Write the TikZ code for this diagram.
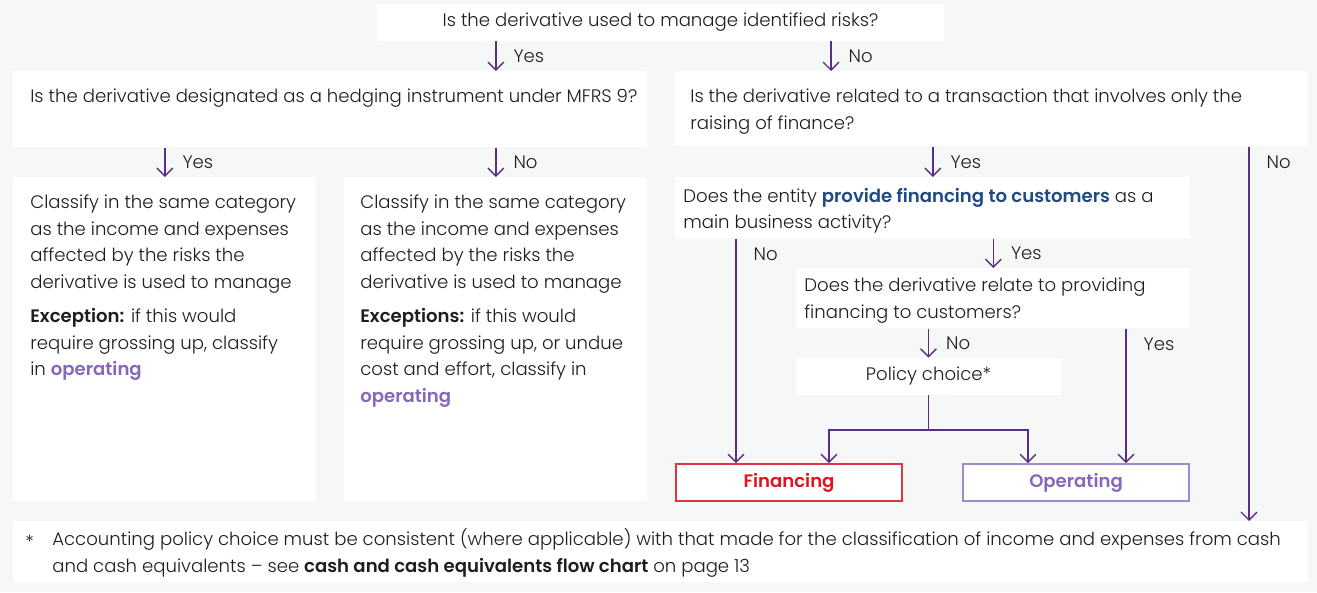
\documentclass[tikz,border=0pt]{standalone}
\usepackage{fontspec}
\setmainfont{Poppins}[UprightFont=* Light, BoldFont=* SemiBold]
\usetikzlibrary{arrows.meta}

\definecolor{bg}{RGB}{246,247,247}
\definecolor{ink}{RGB}{30,30,30}
\definecolor{arrowpurple}{HTML}{5A2D87}
\definecolor{oppurple}{HTML}{8866BB}
\definecolor{opframe}{HTML}{A089CC}
\definecolor{finred}{HTML}{E0141E}
\definecolor{finframe}{HTML}{E0343E}
\definecolor{finblue}{HTML}{1F4A86}

\begin{document}
\begin{tikzpicture}[x=0.02cm, y=-0.02cm, font=\fontsize{10.3}{15.2}\selectfont,
  box/.style={fill=white, inner sep=0pt, anchor=north west},
  txt/.style={anchor=north west, inner sep=0pt, align=left, text=ink, execute at begin node=\strut},
  arr/.style={draw=arrowpurple, line width=0.8pt, -{Straight Barb[length=4.5pt,width=9pt]}},
  lbl/.style={anchor=west, xshift=0.34cm, inner sep=0pt, text=ink},
  endbox/.style={fill=white, line width=1pt, minimum width=4.52cm, minimum height=0.74cm, inner sep=0pt, font=\bfseries\fontsize{10.3}{12}\selectfont}]

\path[fill=bg, use as bounding box] (0,0) rectangle (1317,592);

%\draw[step=100, gray!30] (0,0) grid (1317,592);

% questions
\node[box, anchor=center, minimum width=11.34cm, minimum height=0.74cm, text=ink] (risk) at (660.5,22.5) {Is the derivative used to manage identified risks?};

\node[box, minimum width=12.68cm, minimum height=1.52cm] (hedge) at (13,71) {};
\node[txt] (hedgetxt) at (30,83.2) {Is the derivative designated as a hedging instrument under MFRS 9?};

\node[box, minimum width=12.66cm, minimum height=1.5cm] (raise) at (675,71) {};
\node[txt] (raisetxt) at (690,89) {Is the derivative related to a transaction that involves only the\\raising of finance?};

% hedging outcomes
\node[box, minimum width=6.06cm, minimum height=6.48cm] (same) at (13,177) {};
\node[txt] (sametxt) at (30,194.5) {Classify in the same category\\as the income and expenses\\affected by the risks the\\derivative is used to manage\\[4pt]\textbf{Exception:} if this would\\require grossing up, classify\\in \textbf{\color{oppurple}operating}};

\node[box, minimum width=6.06cm, minimum height=6.48cm] (undue) at (344,177) {};
\node[txt] (unduetxt) at (360,194.5) {Classify in the same category\\as the income and expenses\\affected by the risks the\\derivative is used to manage\\[4pt]\textbf{Exceptions:} if this would\\require grossing up, or undue\\cost and effort, classify in\\\textbf{\color{oppurple}operating}};

% financing branch
\node[box, minimum width=10.3cm, minimum height=1.22cm] (entity) at (675,177) {};
\node[txt] (entitytxt) at (683,187.5) {Does the entity \textbf{\color{finblue}provide financing to customers} as a\\main business activity?};

\node[box, minimum width=7.88cm, minimum height=1.2cm] (relate) at (796,268) {};
\node[txt] (relatetxt) at (804,277.5) {Does the derivative relate to providing\\financing to customers?};

\node[box, anchor=center, minimum width=5.3cm, minimum height=0.74cm, text=ink] (policy) at (928.5,376.5) {Policy choice*};

\node[endbox, draw=finframe, text=finred] (fin) at (789,482.5) {Financing};
\node[endbox, draw=opframe, text=oppurple] (oper) at (1076,482.5) {Operating};

% footnote
\node[box, minimum width=25.9cm, minimum height=1.22cm] (note) at (13,521) {};
\node[txt, anchor=base west, execute at begin node={}] (star) at (25,548) {*};
\node[txt] (notetxt) at (52,528.5) {Accounting policy choice must be consistent (where applicable) with that made for the classification of income and expenses from cash\\and cash equivalents -- see \textbf{cash and cash equivalents flow chart} on page 13};

% connectors
\coordinate (nox) at (831,0);
\coordinate (finx) at (736,0);
\coordinate (opx) at (1126,0);
\coordinate (ccx) at (1249,0);
\coordinate (fsplit) at (829,0);
\coordinate (osplit) at (1028,0);
\coordinate (split) at (928.5,430);

\draw[arr] (risk.south -| undue.north) -- node[lbl]{Yes} (hedge.north -| undue.north);
\draw[arr] (risk.south -| nox) -- node[lbl]{No} (raise.north -| nox);
\draw[arr] (hedge.south -| same.north) -- node[lbl]{Yes} (same.north);
\draw[arr] (hedge.south -| undue.north) -- node[lbl]{No} (undue.north);
\draw[arr] (raise.south -| entity.north) -- node[lbl]{Yes} (entity.north);
\draw[arr] (entity.south -| relate.north) -- node[lbl]{Yes} (relate.north);
\draw[arr] (relate.south -| policy.north) -- node[lbl]{No} (policy.north);

\draw[arr] (entity.south -| finx) node[lbl, yshift=-0.32cm]{No} -- (fin.north -| finx);
\draw[arr] (relate.south -| opx) node[lbl, yshift=-0.32cm]{Yes} -- (oper.north -| opx);
\draw[arr] (raise.south -| ccx) node[lbl, yshift=-0.32cm]{No} -- (note.north -| ccx);

\draw[arr] (policy.south) -- (split) -| (fin.north -| fsplit);
\draw[arr] (split) -| (oper.north -| osplit);

\end{tikzpicture}
\end{document}
